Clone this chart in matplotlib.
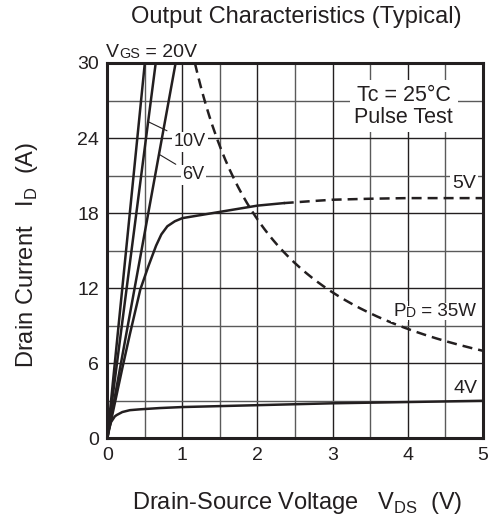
import matplotlib.pyplot as plt
import numpy as np

plt.rcParams['font.family'] = ['Liberation Sans', 'DejaVu Sans']

# straight lines from origin: voltage where each curve reaches 30 A
vgs_lines = ['20V', '10V', '6V']
v_at_30 = [0.50, 0.645, 0.91]

# 5V curve, solid part then dashed part
v5_solid_x = [0, 0.1, 0.2, 0.3, 0.44, 0.55, 0.65, 0.72, 0.8, 0.9, 1.0, 1.25, 1.5, 1.75, 2.0, 2.35]
v5_solid_y = [0, 2.8, 5.6, 8.3, 11.9, 13.8, 15.4, 16.3, 16.95, 17.35, 17.6, 17.85, 18.1, 18.35, 18.6, 18.8]
v5_dash_x = [2.35, 2.7, 3.0, 3.5, 4.0, 4.5, 5.0]
v5_dash_y = [18.8, 18.95, 19.07, 19.15, 19.2, 19.2, 19.2]

# 4V curve
v4_x = [0, 0.02, 0.05, 0.1, 0.125, 0.2, 0.3, 0.44, 0.7, 1.0, 2.0, 3.0, 4.0, 5.0]
v4_y = [0, 0.7, 1.3, 1.75, 1.86, 2.1, 2.25, 2.32, 2.42, 2.5, 2.65, 2.8, 2.9, 3.0]

# power limit PD = 35 W
pd_watt = 35
pd_x = np.linspace(35 / 30, 5, 200)
pd_y = pd_watt / pd_x

line_c = '#231f20'
white = dict(boxstyle='square,pad=0.1', fc='white', ec='none')
white_tight = dict(boxstyle='square,pad=0.0', fc='white', ec='none')


def small_caps_label(x, y, big, small, rest, size, box=None):
    # big letter + smaller letters on the same baseline + rest
    t1 = ax.text(x, y, big, fontsize=size, va='baseline', ha='left', color=line_c, bbox=box)
    t2 = ax.annotate(small, xy=(1, 0), xycoords=t1, fontsize=size * 0.74, va='bottom',
                     ha='left', color=line_c, bbox=white_tight if box else None)
    ax.annotate(rest, xy=(1, 0), xycoords=t2, fontsize=size, va='bottom', ha='left',
                color=line_c, bbox=white_tight if box else None)


fig = plt.figure(figsize=(4.96, 5.24), dpi=100)
ax = fig.add_axes([0.2163, 0.1635, 0.7569, 0.7163])

ax.set_xlim(0, 5)
ax.set_ylim(0, 30)
ax.set_xticks(np.arange(0, 5.01, 1))
ax.set_yticks(np.arange(0, 30.1, 6))
ax.set_xticks(np.arange(0, 5.01, 0.5), minor=True)
ax.set_yticks(np.arange(0, 30.1, 3), minor=True)
ax.tick_params(which='both', length=0, labelsize=14, colors=line_c, pad=6)
ax.grid(which='major', color=line_c, lw=1.0)
ax.grid(which='minor', color='#5a5a5a', lw=1.0)
for s in ax.spines.values():
    s.set_linewidth(2.2)
    s.set_color(line_c)

for v in v_at_30:
    ax.plot([0, v], [0, 30], color=line_c, lw=1.8, solid_capstyle='butt')
ax.plot(v5_solid_x, v5_solid_y, color=line_c, lw=1.8)
ax.plot(v5_dash_x, v5_dash_y, color=line_c, lw=1.8, dashes=(4, 2.4))
ax.plot(v4_x, v4_y, color=line_c, lw=1.8)
ax.plot(pd_x, pd_y, color=line_c, lw=1.8, dashes=(4, 2.4))

small_caps_label(-0.02, 30.5, 'V', 'GS', ' = 20V', 14)
small_caps_label(3.81, 9.8, 'P', 'D', ' = 35W', 13.5, box=white)

ax.text(3.95, 26.55, 'Tc = 25°C\nPulse Test', fontsize=15.5, ha='center', va='center',
        linespacing=1.05, color=line_c,
        bbox=dict(boxstyle='square,pad=0.2', fc='white', ec='none'))
ax.text(4.75, 20.4, '5V', fontsize=14, ha='center', va='center', color=line_c, bbox=white)
ax.text(4.77, 4.0, '4V', fontsize=14, ha='center', va='center', color=line_c, bbox=white)

# leaders for 10V and 6V
ax.annotate('10V', xy=(0.547, 25.3), xytext=(1.10, 23.7), fontsize=13, ha='center',
            va='center', color=line_c, bbox=white,
            arrowprops=dict(arrowstyle='-', color=line_c, lw=0.8, shrinkA=4, shrinkB=0))
ax.annotate('6V', xy=(0.69, 22.7), xytext=(1.147, 21.06), fontsize=13, ha='center',
            va='center', color=line_c, bbox=white,
            arrowprops=dict(arrowstyle='-', color=line_c, lw=0.8, shrinkA=4, shrinkB=0))

fig.text(296 / 496, 1 - 17 / 524, 'Output Characteristics (Typical)', fontsize=17,
         ha='center', va='center', color=line_c)
fig.text(297 / 496, 1 - 503 / 524, r'Drain-Source Voltage   V$_{\mathregular{DS}}$  (V)',
         fontsize=17, ha='center', va='center', color=line_c)
fig.text(27 / 496, 1 - 255 / 524, r'Drain Current   I$_{\mathregular{D}}$  (A)',
         fontsize=17, rotation=90, ha='center', va='center', color=line_c)

fig.savefig('out.png', dpi=100)
